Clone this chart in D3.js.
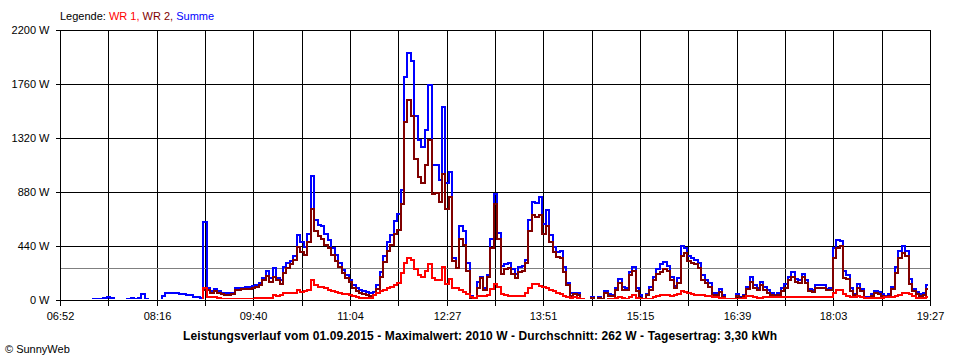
<!DOCTYPE html>
<html><head><meta charset="utf-8">
<script src="https://cdn.jsdelivr.net/npm/d3@7"></script>
<style>
html,body{margin:0;padding:0;background:#fff;}
svg{display:block;font-family:"Liberation Sans",Arial,sans-serif;}
</style></head>
<body><svg id="c" width="960" height="360"></svg>
<script>
// ---- data ----
const startTime = "06:52";
const endTime = "19:27";
const stepMin = 3;              // sampling interval of the series (minutes)
const gridIntervals = 18;       // vertical grid divisions
const yTicks = [0, 440, 880, 1320, 1760, 2200];
const xTickLabels = ["06:52","08:16","09:40","11:04","12:27","13:51","15:15","16:39","18:03","19:27"];
const averageW = 262;
const legendItems = ["WR 1", "WR 2", "Summe"];
const titleText = "Leistungsverlauf vom 01.09.2015 - Maximalwert: 2010 W - Durchschnitt: 262 W - Tagesertrag: 3,30 kWh";
const creditText = "\u00A9 SunnyWeb";

const summe = [
0,0,0,0,0,0,0,0,0,0,
10,12,12,15,22,18,0,0,0,0,
12,14,12,14,45,12,0,0,0,0,
30,55,55,60,60,50,50,40,40,25,
25,20,635,95,75,90,70,60,55,55,
60,100,100,100,105,105,112,120,136,180,
240,180,260,180,160,265,300,320,360,530,
470,430,540,1010,650,615,600,535,490,425,
370,300,245,205,160,120,95,80,72,66,
58,62,122,230,360,470,530,640,700,900,
1820,2010,1950,1500,1300,1250,1385,1750,1100,1100,
980,1575,950,1045,340,260,600,560,300,30,
14,150,190,100,200,500,860,550,275,290,
300,250,215,270,275,330,650,800,790,840,
620,730,530,430,395,400,270,140,55,60,
55,10,0,0,25,0,28,10,70,50,
40,100,170,110,100,230,270,100,40,10,
50,105,190,250,290,310,280,190,115,180,
440,420,355,340,330,300,200,165,140,60,
55,90,40,5,5,5,45,25,40,110,
185,125,100,145,110,80,55,40,55,95,
130,190,225,175,165,215,160,90,80,120,
120,125,90,100,420,490,480,240,200,100,
50,130,90,25,28,45,75,65,45,33,
45,110,270,400,440,400,170,90,65,50,
60,120];

const wr2 = [
0,0,0,0,0,0,0,0,0,0,
0,0,0,0,0,0,0,0,0,0,
0,0,0,0,0,0,0,0,0,0,
0,0,0,0,0,0,0,0,0,0,
0,0,80,80,60,75,55,45,40,40,
45,85,85,90,92,92,100,105,120,160,
195,150,190,165,130,220,260,290,325,430,
390,370,470,740,560,520,500,450,420,370,
320,270,220,180,145,100,70,55,45,38,
32,40,90,190,310,400,450,540,570,780,
1450,1630,1500,1150,1000,950,1100,1300,860,870,
800,1030,740,840,320,260,500,450,240,20,
5,100,180,85,190,420,780,500,215,250,
260,210,180,230,240,300,560,690,680,690,
540,600,470,390,350,340,230,120,35,45,
40,5,0,0,20,0,20,5,55,35,
30,85,140,80,85,200,240,70,20,5,
40,80,160,215,230,250,240,160,100,140,
360,380,320,300,290,260,165,140,110,40,
40,65,25,5,5,5,30,15,30,90,
150,100,80,120,85,55,40,30,40,70,
100,160,190,145,140,190,140,75,65,95,
100,95,80,85,340,420,440,180,170,70,
40,100,70,15,15,30,55,50,30,22,
30,90,220,340,380,360,130,70,45,35,
40,90];

const wr1 = [
0,0,0,0,0,0,0,0,0,0,
0,0,0,0,0,0,0,0,0,0,
0,0,0,0,0,0,0,0,0,0,
0,0,0,0,0,0,0,0,0,0,
0,0,100,27,27,27,20,10,10,10,
10,10,10,10,10,10,10,15,15,15,
15,15,40,35,40,60,60,60,60,80,
65,70,80,165,120,110,105,95,85,75,
65,55,50,45,40,32,25,20,15,15,
20,40,60,70,85,100,110,120,135,220,
300,340,330,250,205,190,240,290,180,165,
165,270,130,175,100,95,80,65,45,22,
20,35,30,30,40,90,130,110,45,40,
35,33,33,33,33,55,100,130,130,115,
110,100,80,70,60,50,35,22,20,22,
20,5,0,0,0,0,0,0,0,5,
5,14,25,15,10,22,40,20,5,5,
5,10,25,35,40,40,38,35,40,45,
76,68,55,45,40,40,38,35,30,25,
22,20,15,12,10,10,10,12,15,30,
30,25,20,20,22,22,22,24,24,27,
27,27,27,27,27,24,24,24,22,22,
22,22,22,22,60,81,81,50,35,25,
25,30,22,14,14,14,14,14,20,22,
22,24,30,41,55,60,45,30,15,15,
15,22];

// ---- layout ----
const L = 60, R = 930, T = 30, B = 300;
const toMin = s => { const [h, m] = s.split(":").map(Number); return h * 60 + m; };
const totalMin = toMin(endTime) - toMin(startTime);

const svg = d3.select("#c");
const x = d3.scaleLinear().domain([0, totalMin]).range([L, R]);
const y = d3.scaleLinear().domain([0, 2200]).range([B, T]);

const gridVals = d3.range(gridIntervals + 1).map(k => k * totalMin / gridIntervals);

// grid
const grid = svg.append("g").attr("shape-rendering", "crispEdges");
grid.selectAll("line.v").data(gridVals).join("line")
  .attr("x1", d => Math.round(x(d)) + 0.5).attr("x2", d => Math.round(x(d)) + 0.5)
  .attr("y1", T).attr("y2", B).attr("stroke", "#000");
grid.selectAll("line.h").data(yTicks.filter(d => d > 0)).join("line")
  .attr("x1", L).attr("x2", R + 1)
  .attr("y1", d => Math.round(y(d)) + 0.5).attr("y2", d => Math.round(y(d)) + 0.5)
  .attr("stroke", "#000");

// average line
svg.append("line").attr("shape-rendering", "crispEdges")
  .attr("x1", L).attr("x2", R)
  .attr("y1", Math.round(y(averageW)) + 0.5).attr("y2", Math.round(y(averageW)) + 0.5)
  .attr("stroke", "#808080");

// clip
svg.append("clipPath").attr("id", "plot").append("rect")
  .attr("x", L + 1).attr("y", T - 2).attr("width", R - L).attr("height", B - 1 - (T - 2));

const line = d3.line()
  .x((d, i) => x(i * stepMin))
  .y(d => y(d))
  .curve(d3.curveStep);

const series = [
  {data: summe, color: "#0000ff"},
  {data: wr2, color: "#800000"},
  {data: wr1, color: "#ff0000"}
];
svg.append("g").attr("clip-path", "url(#plot)")
  .selectAll("path").data(series).join("path")
  .attr("d", d => line(d.data))
  .attr("fill", "none")
  .attr("stroke", d => d.color)
  .attr("stroke-width", 2)
  .attr("stroke-linejoin", "miter")
  .attr("shape-rendering", "crispEdges");

// axes
const xAxis = d3.axisBottom(x).tickValues(gridVals).tickSize(5).tickPadding(7)
  .tickFormat((d, i) => i % 2 === 0 ? xTickLabels[i / 2] : "");
const gx = svg.append("g").attr("transform", `translate(0.5,${B + 0.5})`).call(xAxis);
gx.select(".domain").remove();
gx.append("line").attr("x1", L - 0.5).attr("x2", R + 0.5).attr("y1", 0).attr("y2", 0).attr("stroke", "#000");
gx.selectAll(".tick").attr("transform", d => `translate(${Math.round(x(d))},0)`);
gx.selectAll("text").attr("font-size", 11).attr("font-family", "Liberation Sans, Arial, sans-serif").attr("fill", "#000");
gx.attr("shape-rendering", "crispEdges");

const yAxis = d3.axisLeft(y).tickValues(yTicks).tickSize(5).tickPadding(6)
  .tickFormat(d => d + " W");
const gy = svg.append("g").attr("transform", `translate(${L + 0.5},0)`).call(yAxis);
gy.select(".domain").remove();
gy.append("line").attr("x1", 0).attr("x2", 0).attr("y1", T).attr("y2", B + 1).attr("stroke", "#000");
gy.selectAll(".tick").attr("transform", d => `translate(0,${Math.round(y(d)) + 0.5})`);
gy.selectAll("text").attr("font-size", 11).attr("font-family", "Liberation Sans, Arial, sans-serif").attr("fill", "#000");
gy.attr("shape-rendering", "crispEdges");

// legend
const legendColors = ["#ff0000", "#800000", "#0000ff"];
const lg = svg.append("text").attr("x", L).attr("y", 20).attr("font-size", 11);
lg.append("tspan").attr("fill", "#000").text("Legende: ");
legendItems.forEach((t, i) => {
  lg.append("tspan").attr("fill", legendColors[i]).text(t + (i < legendItems.length - 1 ? ", " : ""));
});

// title
svg.append("text").attr("x", 480).attr("y", 340).attr("text-anchor", "middle")
  .attr("font-size", 12).attr("font-weight", "bold").attr("fill", "#000")
  .attr("textLength", 594).attr("lengthAdjust", "spacing").text(titleText);

// credit
svg.append("text").attr("x", 5).attr("y", 353).attr("font-size", 11).attr("fill", "#000").text(creditText);
</script></body></html>
